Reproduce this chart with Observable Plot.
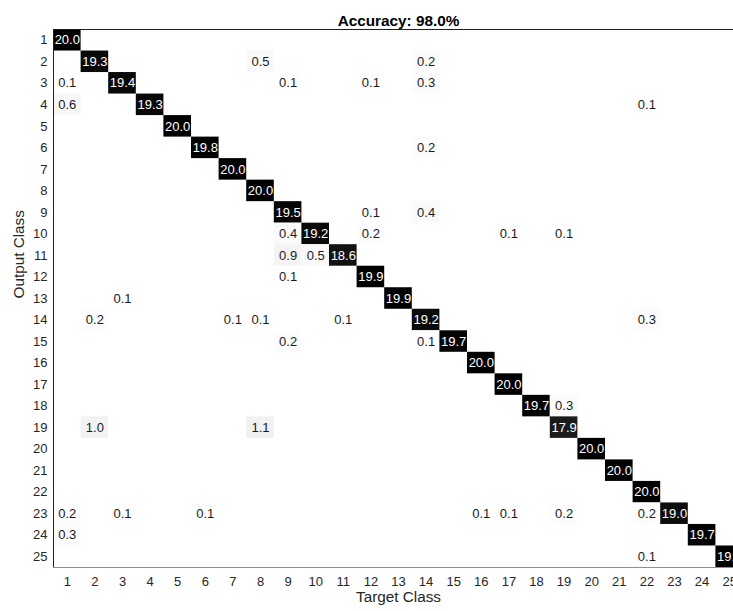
<!DOCTYPE html>
<html>
<head>
<meta charset="utf-8">
<script src="https://cdn.jsdelivr.net/npm/d3@7"></script>
<script src="https://cdn.jsdelivr.net/npm/@observablehq/plot@0.6"></script>
<style>
html, body { margin: 0; padding: 0; overflow: hidden; background: #fff; }
#chart svg { max-width: none !important; }
</style>
</head>
<body>
<div id="chart"></div>
<script>
// Class labels (1..25)
const classes = ["1","2","3","4","5","6","7","8","9","10","11","12","13","14","15","16","17","18","19","20","21","22","23","24","25"];

// Non-zero cells of the confusion matrix (percent), listed row by row
const outputClass = [
  1,
  2, 2, 2,
  3, 3, 3, 3, 3,
  4, 4, 4,
  5,
  6, 6,
  7,
  8,
  9, 9, 9,
  10, 10, 10, 10, 10,
  11, 11, 11,
  12, 12,
  13, 13,
  14, 14, 14, 14, 14, 14,
  15, 15, 15,
  16,
  17,
  18, 18,
  19, 19, 19,
  20,
  21,
  22,
  23, 23, 23, 23, 23, 23, 23, 23,
  24, 24,
  25, 25
];
const targetClass = [
  1,
  2, 8, 14,
  1, 3, 9, 12, 14,
  1, 4, 22,
  5,
  6, 14,
  7,
  8,
  9, 12, 14,
  9, 10, 12, 17, 19,
  9, 10, 11,
  9, 12,
  3, 13,
  2, 7, 8, 11, 14, 22,
  9, 14, 15,
  16,
  17,
  18, 19,
  2, 8, 19,
  20,
  21,
  22,
  1, 3, 6, 16, 17, 19, 22, 23,
  1, 24,
  22, 25
];
const percent = [
  20.0,
  19.3, 0.5, 0.2,
  0.1, 19.4, 0.1, 0.1, 0.3,
  0.6, 19.3, 0.1,
  20.0,
  19.8, 0.2,
  20.0,
  20.0,
  19.5, 0.1, 0.4,
  0.4, 19.2, 0.2, 0.1, 0.1,
  0.9, 0.5, 18.6,
  0.1, 19.9,
  0.1, 19.9,
  0.2, 0.1, 0.1, 0.1, 19.2, 0.3,
  0.2, 0.1, 19.7,
  20.0,
  20.0,
  19.7, 0.3,
  1.0, 1.1, 17.9,
  20.0,
  20.0,
  20.0,
  0.2, 0.1, 0.1, 0.1, 0.1, 0.2, 0.2, 19.0,
  0.3, 19.7,
  0.1, 19.9
];
const accuracy = 98.0;

const cells = percent.map((v, i) => ({o: String(outputClass[i]), t: String(targetClass[i]), v}));

const font = "'Liberation Sans', Arial, Helvetica, sans-serif";

const chart = Plot.plot({
  width: 743,
  height: 611,
  marginLeft: 53,
  marginRight: 0,
  marginTop: 29,
  marginBottom: 44,
  style: {fontFamily: font, fontSize: "13px", color: "#262626", background: "#fff"},
  x: {type: "band", domain: classes, padding: 0, round: false, axis: null},
  y: {type: "band", domain: classes, padding: 0, round: false, axis: null},
  color: {type: "linear", domain: [0, 20], range: ["#ffffff", "#000000"]},
  marks: [
    Plot.cell(cells, {x: "t", y: "o", fill: "v"}),
    Plot.text(cells.filter(d => d.v > 10), {x: "t", y: "o", text: d => d.v.toFixed(1), fill: "white", fontSize: 13}),
    Plot.text(cells.filter(d => d.v <= 10), {x: "t", y: "o", text: d => d.v.toFixed(1), fill: "#1a1a1a", fontSize: 13}),
    Plot.axisX(classes, {anchor: "bottom", tickSize: 0, tickPadding: 9, label: null, fontSize: 13}),
    Plot.axisY(classes, {anchor: "left", tickSize: 0, tickPadding: 6, label: null, fontSize: 13}),
    Plot.frame({anchor: "top", stroke: "#1f1f1f"}),
    Plot.frame({anchor: "left", stroke: "#1f1f1f"}),
    Plot.frame({anchor: "bottom", stroke: "#8f8f8f"}),
    Plot.text([`Accuracy: ${accuracy.toFixed(1)}%`], {frameAnchor: "top", lineAnchor: "bottom", dy: -4, fontWeight: "bold", fontSize: 15.3, fill: "#000"}),
    Plot.text(["Target Class"], {frameAnchor: "bottom", lineAnchor: "bottom", dy: 34, fontSize: 15.3, fill: "#262626"}),
    Plot.text(["Output Class"], {frameAnchor: "left", rotate: -90, dx: -34, fontSize: 15.3, fill: "#262626"})
  ]
});

document.getElementById("chart").appendChild(chart);
</script>
</body>
</html>
